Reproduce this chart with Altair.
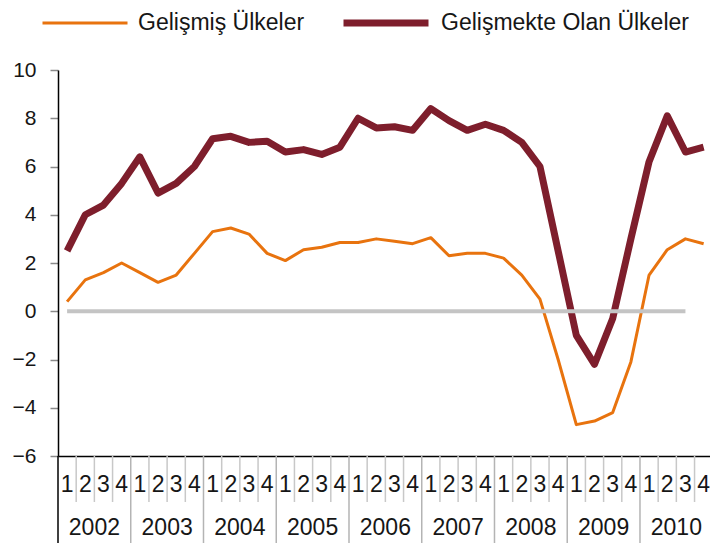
import altair as alt
import pandas as pd

S1 = "Gelişmiş Ülkeler"
S2 = "Gelişmekte Olan Ülkeler"

quarter_labels = ["1", "2", "3", "4"]
years = ["2002", "2003", "2004", "2005", "2006", "2007", "2008", "2009", "2010"]

developed = [0.4, 1.3, 1.6, 2.0,
             1.6, 1.2, 1.5, 2.4,
             3.3, 3.45, 3.2, 2.4,
             2.1, 2.55, 2.65, 2.85,
             2.85, 3.0, 2.9, 2.8,
             3.05, 2.3, 2.4, 2.4,
             2.2, 1.5, 0.5, -2.0,
             -4.7, -4.55, -4.2, -2.1,
             1.5, 2.55, 3.0, 2.8]

emerging = [2.5, 4.0, 4.4, 5.3,
            6.4, 4.9, 5.3, 6.0,
            7.15, 7.25, 7.0, 7.05,
            6.6, 6.7, 6.5, 6.8,
            8.0, 7.6, 7.65, 7.5,
            8.4, 7.9, 7.5, 7.75,
            7.5, 7.0, 6.0, 2.5,
            -1.0, -2.2, -0.3, 3.0,
            6.2, 8.1, 6.6, 6.8]

zero_span = [0, 34]  # quarter indices spanned by the grey zero line

ORANGE = "#E8730E"
DARKRED = "#7E1E2C"
FONT = "Liberation Sans"
TXT = "#161616"

W, H = 652, 386
n = len(years) * 4

series_df = pd.DataFrame({
    "idx": list(range(n)) * 2,
    "series": [S1] * n + [S2] * n,
    "value": developed + emerging,
})
q_df = pd.DataFrame({"idx": list(range(n)), "q": quarter_labels * len(years)})
y_df = pd.DataFrame({"center": [4 * k + 1.5 for k in range(len(years))], "year": years})
qsep_df = pd.DataFrame({"b": [i + 0.5 for i in range(n - 1) if (i + 1) % 4 != 0]})
ysep_df = pd.DataFrame({"b": [4 * k - 0.5 for k in range(1, len(years))]})
axext_df = pd.DataFrame({"b": [-0.5]})
zero_df = pd.DataFrame({"x": [zero_span[0]], "x2": [zero_span[1]], "y": [0]})

xs = alt.Scale(domain=[-0.5, 35.35], nice=False, zero=False)
ys = alt.Scale(domain=[-6, 10], nice=False, zero=False)

lines = alt.Chart(series_df).mark_line(strokeJoin="round").encode(
    x=alt.X("idx:Q", scale=xs, title=None,
            axis=alt.Axis(labels=False, ticks=False, grid=False, domainColor="black",
                          domainWidth=1.5)),
    y=alt.Y("value:Q", scale=ys, title=None,
            axis=alt.Axis(values=list(range(-6, 11, 2)), grid=False, domainColor="black",
                          domainWidth=1.5, tickColor="#8a8a8a", tickSize=8, tickWidth=1.5,
                          labelPadding=14, labelFont=FONT, labelFontSize=21,
                          labelColor=TXT)),
    color=alt.Color("series:N", scale=alt.Scale(domain=[S1, S2], range=[ORANGE, DARKRED]),
                    legend=alt.Legend(orient="none", legendX=-17, legendY=-93,
                                      direction="horizontal", title=None,
                                      symbolType="stroke", symbolSize=7225,
                                      labelFont=FONT, labelFontSize=23, labelColor=TXT,
                                      labelLimit=0, labelOffset=9, columnPadding=24,
                                      padding=0)),
    strokeWidth=alt.StrokeWidth("series:N", scale=alt.Scale(domain=[S1, S2], range=[3, 7])),
)

zero_line = alt.Chart(zero_df).mark_rule(color="#c4c4c4", strokeWidth=4).encode(
    x=alt.X("x:Q", scale=xs, title=None), x2="x2:Q",
    y=alt.Y("y:Q", scale=ys, title=None),
)

qsep = alt.Chart(qsep_df).mark_rule(color="#c8c8c8", strokeWidth=1.5).encode(
    x=alt.X("b:Q", scale=xs, title=None), y=alt.value(H), y2=alt.value(H + 46),
)
ysep = alt.Chart(ysep_df).mark_rule(color="#b4b4b4", strokeWidth=1.5).encode(
    x=alt.X("b:Q", scale=xs, title=None), y=alt.value(H), y2=alt.value(H + 100),
)
axext = alt.Chart(axext_df).mark_rule(color="black", strokeWidth=1.5).encode(
    x=alt.X("b:Q", scale=xs, title=None), y=alt.value(H), y2=alt.value(H + 100),
)

qtext = alt.Chart(q_df).mark_text(font=FONT, fontSize=23, baseline="middle",
                                  align="center", color=TXT).encode(
    x=alt.X("idx:Q", scale=xs, title=None), y=alt.value(H + 29), text="q:N",
)
ytext = alt.Chart(y_df).mark_text(font=FONT, fontSize=23, baseline="middle",
                                  align="center", color=TXT).encode(
    x=alt.X("center:Q", scale=xs, title=None), y=alt.value(H + 72), text="year:N",
)

chart = alt.layer(lines, zero_line, qsep, ysep, axext, qtext, ytext).properties(
    width=W, height=H, autosize="none",
    padding={"left": 50, "top": 62, "right": 0, "bottom": 87},
    background="white",
).configure_view(stroke=None)

chart.save("out.html", embed_options={"renderer": "svg", "actions": False})
